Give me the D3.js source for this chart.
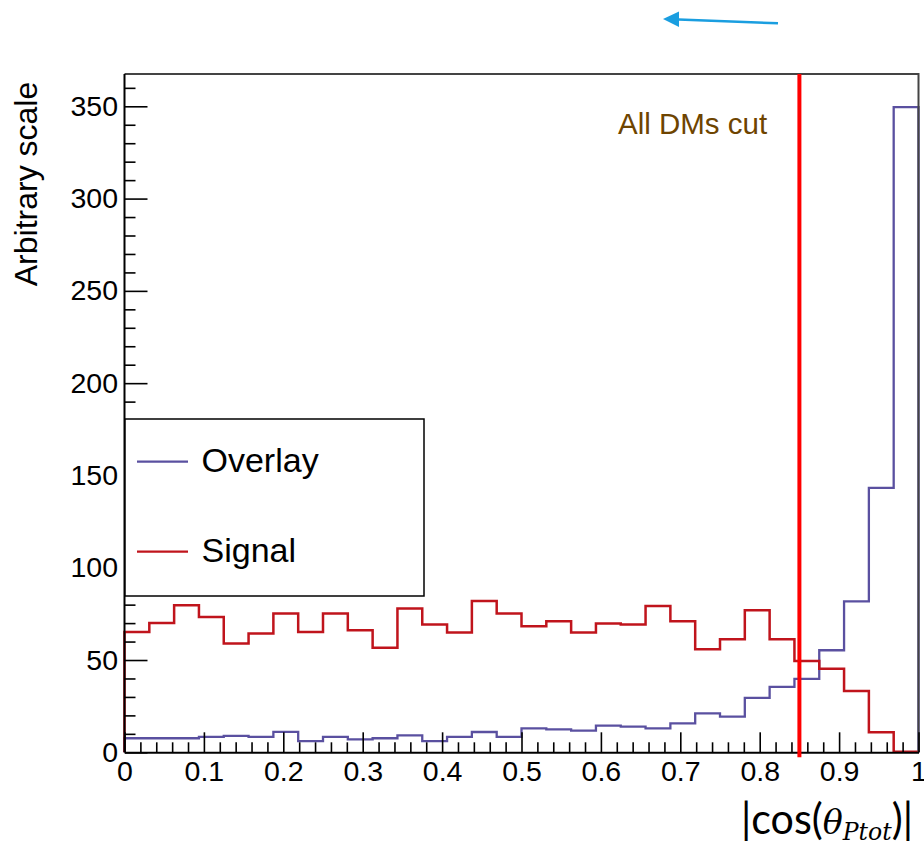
<!DOCTYPE html>
<html><head><meta charset="utf-8">
<script src="https://cdn.jsdelivr.net/npm/d3@7/dist/d3.min.js"></script>
<style>body{margin:0;background:#fff}svg{display:block}</style>
</head><body>
<svg id="chart" width="924" height="842"></svg>
<script>
// ---- data ----
const xDomain = [0, 1];
const nBins = 32;
const signal = [65.2, 70.1, 79.7, 73.3, 58.9, 64.3, 75.2, 65.2, 75.2, 66.1, 56.6, 77.9, 69.2, 64.9, 82.0, 75.2,
                68.3, 71.0, 64.9, 69.8, 69.2, 79.3, 71.0, 55.9, 61.3, 77.0, 61.3, 49.4, 45.2, 33.2, 10.8, 0.3];
const overlay = [7.6, 7.6, 7.6, 8.4, 8.9, 8.4, 11.1, 6.1, 8.4, 7.0, 7.6, 9.2, 6.1, 8.4, 11.0, 8.4,
                 13.0, 12.4, 11.7, 14.4, 13.9, 13.0, 15.7, 21.1, 19.3, 29.5, 35.5, 39.8, 55.3, 81.8, 143.3, 349.5];
const yMax = 367.5;
const yTicks = [0, 50, 100, 150, 200, 250, 300, 350];
const xTicks = [0, 0.1, 0.2, 0.3, 0.4, 0.5, 0.6, 0.7, 0.8, 0.9, 1];
const xTickLabels = ["0", "0.1", "0.2", "0.3", "0.4", "0.5", "0.6", "0.7", "0.8", "0.9", "1"];
const cutValue = 0.85;
const seriesNames = ["Overlay", "Signal"];
const seriesColors = ["#5a50a0", "#c0141c"];

// ---- layout ----
const svg = d3.select("#chart");
const L = 124.5, R = 918.5, T = 74, B = 752.3;
const x = d3.scaleLinear().domain(xDomain).range([L, R]);
const y = d3.scaleLinear().domain([0, yMax]).range([B, T]);
const binW = (xDomain[1] - xDomain[0]) / nBins;
const edges = d3.range(nBins + 1).map(i => xDomain[0] + i * binW);
const font = "'Liberation Sans', Arial, Helvetica, sans-serif";

function histPath(vals) {
  const pts = [[edges[0], 0]];
  vals.forEach((v, i) => { pts.push([edges[i], v]); pts.push([edges[i + 1], v]); });
  pts.push([edges[nBins], 0]);
  return d3.line().x(d => x(d[0])).y(d => y(d[1]))(pts);
}

// histograms
svg.append("path").attr("d", histPath(overlay)).attr("fill", "none")
  .attr("stroke", seriesColors[0]).attr("stroke-width", 2.3);
svg.append("path").attr("d", histPath(signal)).attr("fill", "none")
  .attr("stroke", seriesColors[1]).attr("stroke-width", 2.5);

// frame (top/right)
svg.append("path").attr("d", `M${L},${T}H${R}V${B}`).attr("fill", "none")
  .attr("stroke", "#444").attr("stroke-width", 2);

// axes
const yMinor = d3.range(0, 361, 10).filter(v => v % 50 !== 0);
const xMinor = d3.range(0, 51).map(i => i / 50).filter(v => Math.abs(v * 10 - Math.round(v * 10)) > 1e-6);

const gy = svg.append("g").attr("transform", `translate(${L},0)`);
gy.call(d3.axisLeft(y).tickValues(yTicks).tickSizeInner(-23).tickSizeOuter(0).tickPadding(6.5));
gy.append("g").call(d3.axisLeft(y).tickValues(yMinor).tickSizeInner(-11).tickSizeOuter(0).tickFormat(""))
  .select(".domain").remove();
gy.selectAll("text").attr("font-family", font).attr("font-size", 28.5).attr("fill", "#000");
gy.selectAll("line").attr("stroke", "#000").attr("stroke-width", 1.6);
gy.selectAll(".domain").attr("stroke", "#000").attr("stroke-width", 2).attr("d", `M0,${T}V${B}`);

const gx = svg.append("g").attr("transform", `translate(0,${B})`);
gx.call(d3.axisBottom(x).tickValues(xTicks).tickFormat((d, i) => xTickLabels[i])
  .tickSizeInner(-20).tickSizeOuter(0).tickPadding(8));
gx.append("g").call(d3.axisBottom(x).tickValues(xMinor).tickSizeInner(-10).tickSizeOuter(0).tickFormat(""))
  .select(".domain").remove();
gx.selectAll("text").attr("font-family", font).attr("font-size", 28.5).attr("fill", "#000");
gx.selectAll("line").attr("stroke", "#000").attr("stroke-width", 1.6);
gx.selectAll(".domain").attr("stroke", "#000").attr("stroke-width", 2);

// cut line
svg.append("line").attr("x1", x(cutValue)).attr("x2", x(cutValue)).attr("y1", T).attr("y2", B + 5)
  .attr("stroke", "#ff0000").attr("stroke-width", 4);

svg.append("text").attr("x", 618).attr("y", 133.5).attr("font-family", font).attr("font-size", 29.5)
  .attr("fill", "#6e4400").text("All DMs cut");

// arrow
svg.append("line").attr("x1", 778).attr("y1", 23.3).attr("x2", 672).attr("y2", 19.3)
  .attr("stroke", "#1a9ee0").attr("stroke-width", 2.5);
svg.append("path").attr("d", "M663,19L679,11.5L679,27Z").attr("fill", "#1a9ee0");

// legend
const lg = svg.append("g");
lg.append("rect").attr("x", 125).attr("y", 419).attr("width", 299).attr("height", 177)
  .attr("fill", "#fff").attr("stroke", "#000").attr("stroke-width", 1.5);
const legY = [461.7, 551.7];
seriesNames.forEach((n, i) => {
  lg.append("line").attr("x1", 137).attr("x2", 188).attr("y1", legY[i]).attr("y2", legY[i])
    .attr("stroke", seriesColors[i]).attr("stroke-width", 2.3);
  lg.append("text").attr("x", 201.5).attr("y", legY[i] + 10).attr("font-family", font).attr("font-size", 34)
    .attr("fill", "#000").text(n);
});

// axis titles
svg.append("text").attr("transform", "translate(37,184) rotate(-90)").attr("text-anchor", "middle")
  .attr("font-family", font).attr("font-size", 32).attr("fill", "#000").text("Arbitrary scale");

const xt = svg.append("text").attr("x", 741).attr("y", 834).attr("fill", "#000")
  .attr("textLength", 172).attr("lengthAdjust", "spacingAndGlyphs");
xt.append("tspan").attr("font-family", "Lato, 'Open Sans', sans-serif").attr("font-size", 42).text("|cos(");
xt.append("tspan").attr("font-family", "'DejaVu Serif', serif").attr("font-style", "italic").attr("font-size", 34).text("θ");
xt.append("tspan").attr("font-family", "'DejaVu Serif', serif").attr("font-style", "italic").attr("font-size", 24)
  .attr("dy", 6).text("Ptot");
xt.append("tspan").attr("font-family", "Lato, 'Open Sans', sans-serif").attr("font-size", 42).attr("dy", -6).text(")|");
</script>
</body></html>
